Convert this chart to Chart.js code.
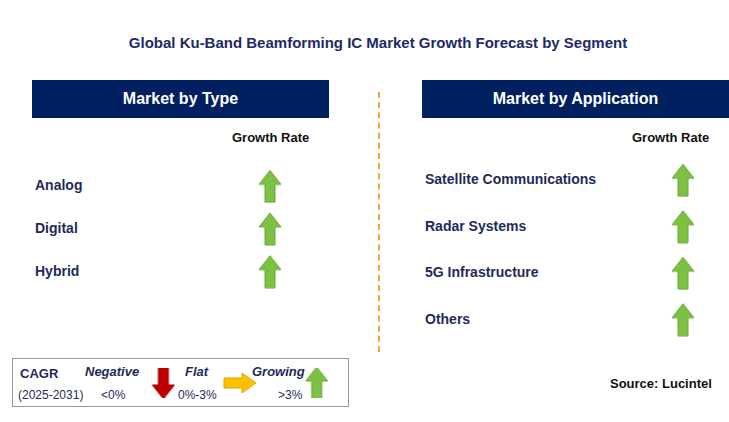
<!DOCTYPE html>
<html>
<head>
<meta charset="utf-8">
<script src="https://cdn.jsdelivr.net/npm/chart.js@4.4.1/dist/chart.umd.min.js"></script>
<style>
  body { margin:0; width:729px; height:422px; background:#fff; position:relative; overflow:hidden;
         font-family:"Liberation Sans", Arial, sans-serif; color:#1f2a5a; }
  .abs { position:absolute; white-space:nowrap; }
  .title { top:34px; left:0; width:756px; text-align:center; font-weight:bold; font-size:15px; color:#1f2a6a; }
  .hdr { background:#002060; color:#fff; font-weight:bold; font-size:16px; height:38px; line-height:38px; text-align:center; top:80px; }
  .gr { font-weight:bold; font-size:13px; color:#111; top:130px; }
  .lbl { font-weight:bold; font-size:14px; color:#1f2a5a; }
  canvas { position:absolute; }
  .legend { left:12px; top:358px; width:335px; height:47px; border:1px solid #999; }
  .lt { font-size:12px; color:#1f2a5a; }
</style>
</head>
<body>
<div class="abs title">Global Ku-Band Beamforming IC Market Growth Forecast by Segment</div>
<div class="abs hdr" style="left:32px;width:297px">Market by Type</div>
<div class="abs hdr" style="left:422px;width:307px">Market by Application</div>
<div class="abs gr" style="left:232px">Growth Rate</div>
<div class="abs gr" style="left:632px">Growth Rate</div>
<div class="abs" style="left:378px;top:92px;height:260px;border-left:2px dashed #f0a830"></div>
<div id="typeLabels"></div>
<div id="appLabels"></div>

<div class="abs legend"></div>
<div class="abs lbl" style="left:20px;top:366px;font-size:13px">CAGR</div>
<div class="abs lt" style="left:18px;top:388px">(2025-2031)</div>
<div class="abs lbl" style="left:85px;top:364px;font-size:13px;font-style:italic">Negative</div>
<div class="abs lt" style="left:101px;top:388px">&lt;0%</div>
<div class="abs lbl" style="left:185px;top:364px;font-size:13px;font-style:italic">Flat</div>
<div class="abs lt" style="left:178px;top:388px">0%-3%</div>
<div class="abs lbl" style="left:252px;top:364px;font-size:13px;font-style:italic">Growing</div>
<div class="abs lt" style="left:278px;top:388px">&gt;3%</div>
<div class="abs lbl" style="left:610px;top:376px;font-size:13px;color:#111">Source: Lucintel</div>

<canvas id="typeChart" width="60" height="138" style="left:240px;top:160px"></canvas>
<canvas id="appChart" width="60" height="196" style="left:653px;top:152px"></canvas>
<canvas id="legendChart" width="240" height="40" style="left:120px;top:363px"></canvas>

<script>
// ── Data ────────────────────────────────────────────────────
const types       = ['Analog', 'Digital', 'Hybrid'];
const typeGrowth  = ['Growing', 'Growing', 'Growing'];
const apps        = ['Satellite Communications', 'Radar Systems', '5G Infrastructure', 'Others'];
const appGrowth   = ['Growing', 'Growing', 'Growing', 'Growing'];
const legendKeys  = ['Negative', 'Flat', 'Growing'];

// ── Arrow glyphs used as point styles ──────────────────────
function arrow(dir) {
    const c = document.createElement('canvas');
    const horiz = dir === 'right';
    c.width = horiz ? 34 : 24; c.height = horiz ? 22 : 34;
    const g = c.getContext('2d');
    g.beginPath();
    if (dir === 'up') {
        g.moveTo(12, 1); g.lineTo(23, 15); g.lineTo(17, 15); g.lineTo(17, 33);
        g.lineTo(7, 33); g.lineTo(7, 15); g.lineTo(1, 15);
        g.fillStyle = '#7dc142'; g.strokeStyle = '#6aa83a';
    } else if (dir === 'down') {
        g.moveTo(12, 33); g.lineTo(23, 19); g.lineTo(17, 19); g.lineTo(17, 1);
        g.lineTo(7, 1); g.lineTo(7, 19); g.lineTo(1, 19);
        g.fillStyle = '#c00000'; g.strokeStyle = '#a00000';
    } else {
        g.moveTo(33, 11); g.lineTo(19, 1); g.lineTo(19, 6); g.lineTo(1, 6);
        g.lineTo(1, 16); g.lineTo(19, 16); g.lineTo(19, 21);
        g.fillStyle = '#ffc000'; g.strokeStyle = '#e0a800';
    }
    g.closePath(); g.fill(); g.lineWidth = 1; g.stroke();
    return c;
}
const glyph = { Growing: arrow('up'), Flat: arrow('right'), Negative: arrow('down') };

const hidden = { display: false };
const base = {
    responsive: false, animation: false, devicePixelRatio: 1,
    layout: { padding: 0 },
    plugins: { legend: hidden, tooltip: { enabled: false } },
    events: []
};

function segmentChart(id, cats, growth, labelBox, left) {
    new Chart(document.getElementById(id), {
        type: 'scatter',
        data: { datasets: [{
            data: cats.map(c => ({ x: 1, y: c })),
            pointStyle: growth.map(gr => glyph[gr])
        }] },
        options: { ...base, scales: {
            x: { ...hidden, min: 0, max: 2 },
            y: { ...hidden, type: 'category', labels: cats, offset: true }
        } },
        plugins: [{
            id: 'rowLabels',
            afterLayout(chart) {
                const el = document.getElementById(labelBox);
                const top = chart.canvas.offsetTop;
                el.innerHTML = cats.map((c, i) =>
                    `<div class="abs lbl" style="left:${left}px;top:${top + chart.scales.y.getPixelForValue(i) - 9}px">${c}</div>`
                ).join('');
            }
        }]
    });
}
segmentChart('typeChart', types, typeGrowth, 'typeLabels', 35);
segmentChart('appChart', apps, appGrowth, 'appLabels', 425);

new Chart(document.getElementById('legendChart'), {
    type: 'scatter',
    data: { datasets: [{
        data: legendKeys.map(k => ({ x: k, y: 1 })),
        pointStyle: legendKeys.map(k => glyph[k])
    }] },
    options: { ...base, scales: {
        x: { ...hidden, type: 'category', labels: legendKeys, offset: true },
        y: { ...hidden, min: 0, max: 2 }
    } }
});
</script>
</body>
</html>
